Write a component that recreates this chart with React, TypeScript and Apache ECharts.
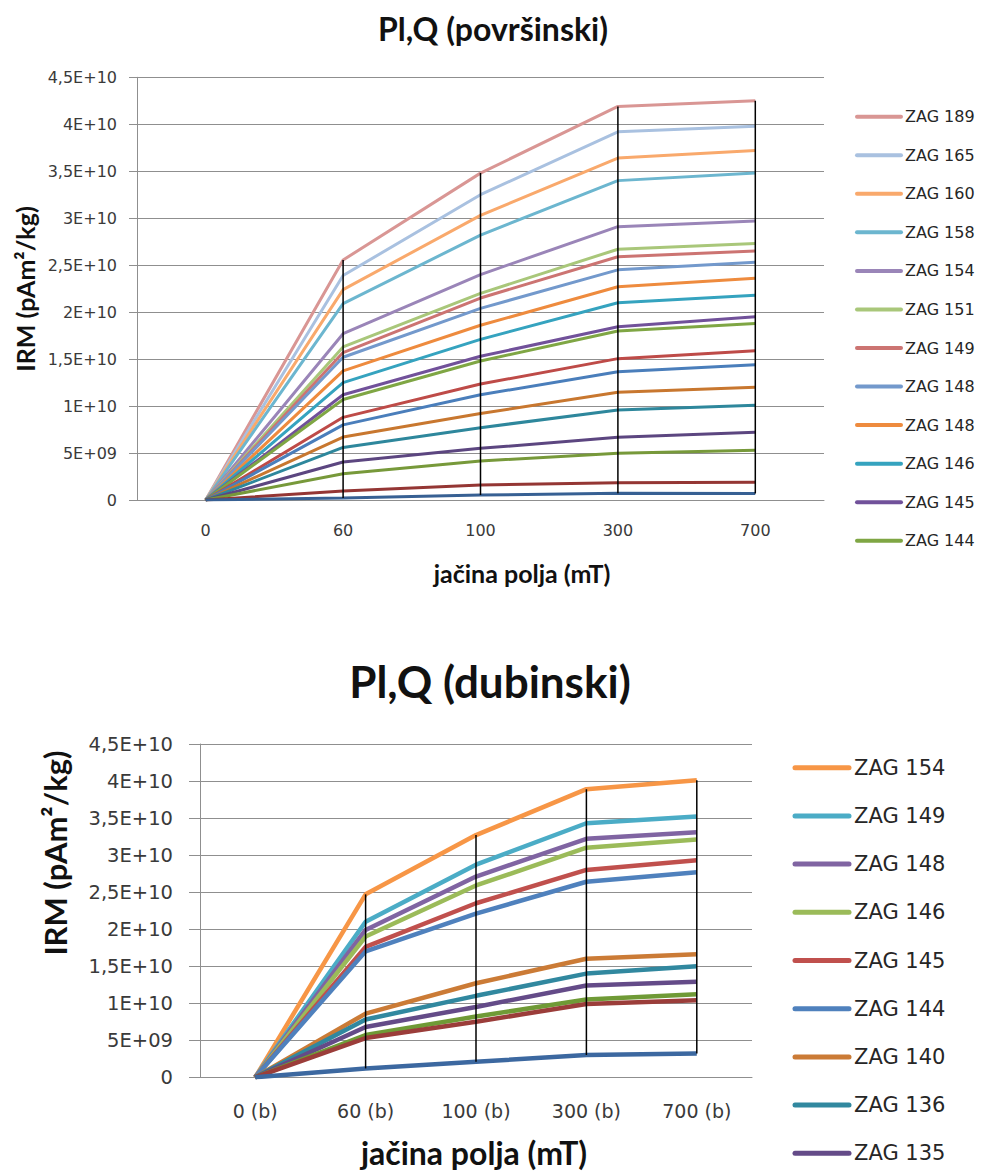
import React, { useEffect, useRef } from "react";
import * as echarts from "echarts";

// ---------- data ----------
const topCategories = ["0", "60", "100", "300", "700"];
const bottomCategories = ["0 (b)", "60 (b)", "100 (b)", "300 (b)", "700 (b)"];
const yTickLabels = ["0", "5E+09", "1E+10", "1,5E+10", "2E+10", "2,5E+10", "3E+10", "3,5E+10", "4E+10", "4,5E+10"];

const topNames = [
  "ZAG 189", "ZAG 165", "ZAG 160", "ZAG 158", "ZAG 154", "ZAG 151",
  "ZAG 149", "ZAG 148", "ZAG 148", "ZAG 146", "ZAG 145", "ZAG 144",
  "serija 13", "serija 14", "serija 15", "serija 16", "serija 17", "serija 18", "serija 19", "serija 20",
];
const topColors = [
  "#D99694", "#A9C1E0", "#F9A96C", "#6CB6CF", "#9A85B8", "#A9C77A",
  "#CC7472", "#7399CC", "#EE8B3E", "#35A3BF", "#71519A", "#7FA644",
  "#BE4B48", "#4A7EBB", "#C8772F", "#2E879C", "#5C4680", "#77993A", "#943634", "#376093",
];
const topValues: number[][] = [
  [0, 2.555e10, 3.48e10, 4.19e10, 4.25e10],
  [0, 2.39e10, 3.25e10, 3.92e10, 3.98e10],
  [0, 2.24e10, 3.03e10, 3.64e10, 3.72e10],
  [0, 2.09e10, 2.82e10, 3.4e10, 3.48e10],
  [0, 1.77e10, 2.4e10, 2.91e10, 2.97e10],
  [0, 1.63e10, 2.2e10, 2.67e10, 2.73e10],
  [0, 1.57e10, 2.15e10, 2.59e10, 2.65e10],
  [0, 1.52e10, 2.04e10, 2.45e10, 2.53e10],
  [0, 1.375e10, 1.86e10, 2.27e10, 2.36e10],
  [0, 1.25e10, 1.71e10, 2.1e10, 2.18e10],
  [0, 1.12e10, 1.53e10, 1.845e10, 1.95e10],
  [0, 1.07e10, 1.48e10, 1.8e10, 1.88e10],
  [0, 0.88e10, 1.235e10, 1.505e10, 1.59e10],
  [0, 0.8e10, 1.12e10, 1.366e10, 1.44e10],
  [0, 0.67e10, 0.92e10, 1.147e10, 1.2e10],
  [0, 0.56e10, 0.77e10, 0.958e10, 1.01e10],
  [0, 0.405e10, 0.55e10, 0.667e10, 0.72e10],
  [0, 0.28e10, 0.415e10, 0.497e10, 0.53e10],
  [0, 0.096e10, 0.16e10, 0.184e10, 0.19e10],
  [0, 0.02e10, 0.053e10, 0.071e10, 0.07e10],
];
const topLegendCount = 12;

const bottomNames = [
  "ZAG 154", "ZAG 149", "ZAG 148", "ZAG 146", "ZAG 145", "ZAG 144",
  "ZAG 140", "ZAG 136", "ZAG 135", "serija 10", "serija 11", "serija 12",
];
const bottomColors = [
  "#F79646", "#4BACC6", "#8064A2", "#9BBB59", "#C0504D", "#4F81BD",
  "#CB7B36", "#31889F", "#644B88", "#6F9A36", "#9B3D3A", "#3C68A0",
];
const bottomValues: number[][] = [
  [0, 2.47e10, 3.27e10, 3.89e10, 4.01e10],
  [0, 2.1e10, 2.87e10, 3.43e10, 3.52e10],
  [0, 1.99e10, 2.71e10, 3.22e10, 3.31e10],
  [0, 1.9e10, 2.59e10, 3.1e10, 3.21e10],
  [0, 1.76e10, 2.35e10, 2.8e10, 2.93e10],
  [0, 1.7e10, 2.21e10, 2.64e10, 2.77e10],
  [0, 0.86e10, 1.27e10, 1.6e10, 1.66e10],
  [0, 0.78e10, 1.1e10, 1.4e10, 1.5e10],
  [0, 0.68e10, 0.95e10, 1.24e10, 1.29e10],
  [0, 0.57e10, 0.82e10, 1.05e10, 1.12e10],
  [0, 0.53e10, 0.75e10, 0.99e10, 1.04e10],
  [0, 0.12e10, 0.21e10, 0.3e10, 0.32e10],
];
const bottomLegendCount = 9;

const topTitle = "Pl,Q (površinski)";
const bottomTitle = "Pl,Q (dubinski)";
const xName = "jačina polja (mT)";
const yName = "IRM (pAm²/kg)";

// ---------- helpers ----------
const labelColor = "#3a3a3a";
const gridColor = "#8f8f8f";
const tickFont = "DejaVu Sans";
const titleFont = "Lato";

function hiLo(values: number[][], n: number) {
  const out: number[][] = [];
  for (let i = 0; i < n; i++) {
    const col = values.map((s) => s[i]);
    out.push([i, Math.min(...col), Math.max(...col)]);
  }
  return out;
}

function makeYAxis(gridIndex: number, fontSize: number, margin: number, tickLen: number) {
  return {
    type: "value",
    gridIndex,
    min: 0,
    max: 4.5e10,
    interval: 5e9,
    axisLine: { show: true, lineStyle: { color: gridColor, width: 1 } },
    axisTick: { show: true, length: tickLen, lineStyle: { color: gridColor } },
    splitLine: { show: true, lineStyle: { color: gridColor, width: 1 } },
    axisLabel: {
      color: labelColor,
      fontFamily: tickFont,
      fontSize,
      margin,
      formatter: (_v: number, idx: number) => yTickLabels[idx] ?? "",
    },
  };
}

function makeXAxis(gridIndex: number, data: string[], fontSize: number, margin: number) {
  return {
    type: "category",
    gridIndex,
    data,
    boundaryGap: true,
    axisLine: { show: true, lineStyle: { color: gridColor, width: 1 } },
    axisTick: { show: false },
    axisLabel: { color: labelColor, fontFamily: tickFont, fontSize, margin },
  };
}

function hiLoSeries(idx: number, values: number[][], width: number) {
  return {
    type: "custom",
    xAxisIndex: idx,
    yAxisIndex: idx,
    z: 10,
    silent: true,
    data: hiLo(values, 5),
    encode: { x: 0, y: [1, 2] },
    renderItem: (_p: any, api: any) => {
      const top = api.coord([api.value(0), api.value(2)]);
      const bot = api.coord([api.value(0), api.value(1)]);
      return {
        type: "line",
        shape: { x1: top[0], y1: top[1], x2: bot[0], y2: bot[1] },
        style: { stroke: "#000000", lineWidth: width },
      };
    },
  };
}

function legendGraphics(
  names: string[], colors: string[], count: number,
  x1: number, x2: number, textX: number, y0: number, step: number,
  lw: number, fontSize: number,
) {
  const els: any[] = [];
  for (let i = 0; i < count; i++) {
    const y = y0 + i * step;
    els.push({
      type: "line",
      shape: { x1, y1: y, x2, y2: y },
      style: { stroke: colors[i], lineWidth: lw, lineCap: "round" },
    });
    els.push({
      type: "text",
      x: textX,
      y,
      style: {
        text: names[i],
        fill: "#262626",
        fontFamily: tickFont,
        fontSize,
        textAlign: "left",
        textVerticalAlign: "middle",
      },
    });
  }
  return els;
}

function textEl(text: string, x: number, y: number, size: number, rotate = false) {
  return {
    type: "text",
    x,
    y,
    rotation: rotate ? Math.PI / 2 : 0,
    style: {
      text,
      fill: "#111111",
      fontFamily: titleFont,
      fontWeight: "bold",
      fontSize: size,
      textAlign: "center",
      textVerticalAlign: "middle",
    },
  };
}

export default function App() {
  const ref = useRef<HTMLDivElement>(null);
  useEffect(() => {
    if (!ref.current) return;
    const chart = echarts.init(ref.current, undefined, { renderer: "svg" });

    const series: any[] = [];
    topValues.forEach((vals, i) => {
      series.push({
        type: "line",
        name: topNames[i],
        xAxisIndex: 0,
        yAxisIndex: 0,
        data: vals,
        color: topColors[i],
        showSymbol: false,
        symbol: "none",
        lineStyle: { width: 3, color: topColors[i] },
        z: 2,
      });
    });
    bottomValues.forEach((vals, i) => {
      series.push({
        type: "line",
        name: bottomNames[i],
        xAxisIndex: 1,
        yAxisIndex: 1,
        data: vals,
        color: bottomColors[i],
        showSymbol: false,
        symbol: "none",
        lineStyle: { width: 4.5, color: bottomColors[i] },
        z: 2,
      });
    });
    series.push(hiLoSeries(0, topValues, 1.5));
    series.push(hiLoSeries(1, bottomValues, 1.5));

    const graphics: any[] = [
      textEl(topTitle, 493, 28, 32),
      textEl(bottomTitle, 490, 681, 44),
      textEl(xName, 522, 573, 25),
      textEl(xName, 474, 1152, 32),
      textEl(yName, 25, 289, 25, true),
      textEl(yName, 55, 853, 31, true),
      ...legendGraphics(topNames, topColors, topLegendCount, 857, 901, 905, 116.7, 38.55, 4, 16),
      ...legendGraphics(bottomNames, bottomColors, bottomLegendCount, 795, 849, 854, 767.7, 48.2, 5, 21),
    ];

    chart.setOption({
      animation: false,
      backgroundColor: "#ffffff",
      grid: [
        { left: 137, top: 77.3, width: 687, height: 422.7, containLabel: false },
        { left: 200, top: 744, width: 552, height: 333.3, containLabel: false },
      ],
      xAxis: [
        makeXAxis(0, topCategories, 16, 22),
        makeXAxis(1, bottomCategories, 19, 24),
      ],
      yAxis: [
        makeYAxis(0, 16, 20, 8),
        makeYAxis(1, 19.5, 27, 11),
      ],
      series,
      graphic: graphics,
    });
    return () => chart.dispose();
  }, []);
  return (
    <div
      ref={ref}
      style={{ position: "absolute", left: 0, top: 0, width: 982, height: 1171, background: "#fff" }}
    />
  );
}
